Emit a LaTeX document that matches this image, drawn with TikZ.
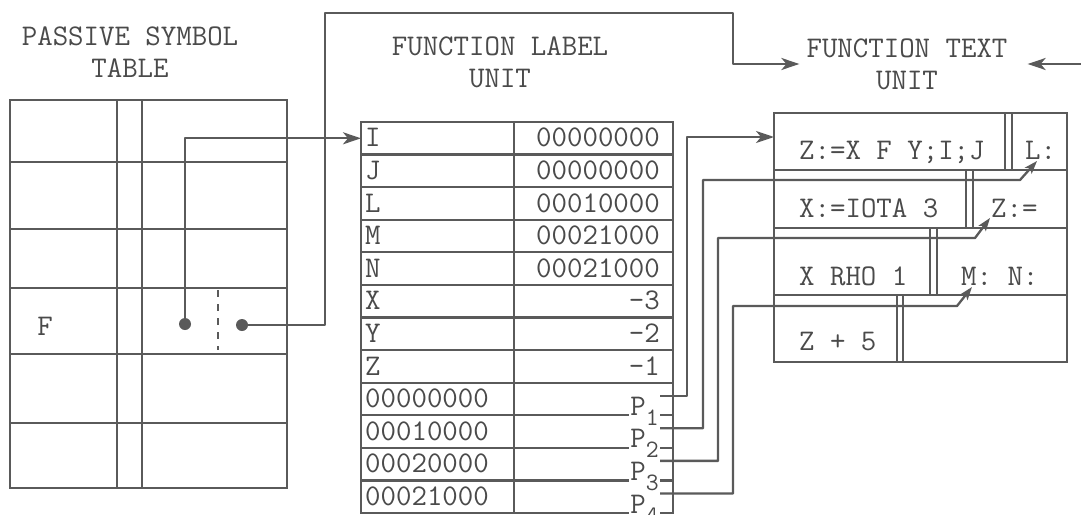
\documentclass[tikz,border=0pt]{standalone}
\usepackage{fontspec}
\usetikzlibrary{arrows.meta,calc}
\definecolor{fuInk}{HTML}{5A5A5A}
\definecolor{fuText}{HTML}{4A4A4A}

\begin{document}
\begin{tikzpicture}[x=1pt,y=-1pt,
  >={Stealth[length=18pt,width=12pt,inset=5pt]},
  rule/.style={draw=fuInk,line width=2.3pt},
  conn/.style={draw=fuInk,line width=2.3pt,line join=round},
  cell/.style={draw=fuInk,line width=2.3pt,inner sep=0pt,outer sep=0pt,minimum height=32.58pt},
  blk/.style={draw=fuInk,line width=2.3pt,inner sep=0pt,outer sep=0pt,minimum width=293pt},
  mono/.style={font=\ttfamily\fontsize{30}{32}\selectfont,text=fuText,inner sep=0pt},
  head/.style={mono,align=center},
  dot/.style={circle,fill=fuInk,inner sep=0pt,minimum size=12pt},
  small/.style={-{Stealth[length=13pt,width=9pt,inset=3pt]}},
]
\useasboundingbox[fill=white] (0,0) rectangle (1081,514);

% titles
\node[head] (psTitle) at (130,52) {PASSIVE SYMBOL\\TABLE};
\node[head] (flTitle) at (500,62) {FUNCTION LABEL\\UNIT};
\node[head] (ftu)     at (907,64) {FUNCTION TEXT\\UNIT};

% passive symbol table
\draw[rule] (10,100) rectangle (287,488);
\foreach \y in {162,229,288,354,423} \draw[rule] (10,\y) -- (287,\y);
\foreach \x in {117,142} \draw[rule] (\x,100) -- (\x,488);
\node[mono] (fsym) at (45,326) {F};
\draw[rule,dash pattern=on 7pt off 7pt] (218,290) -- (218,350);
\node[dot] (dA) at (185,324) {};
\node[dot] (dB) at (242,325) {};

% function label unit
\foreach \lft/\rgt [count=\i] in {I/00000000,J/00000000,L/00010000,M/00021000,
    N/00021000,X/-3,Y/-2,Z/-1,00000000/,00010000/,00020000/,00021000/}{
  \node[cell,minimum width=153pt] (fl\i) at (437.5,{122+(\i-0.5)*32.583}) {};
  \node[cell,minimum width=159pt] (fr\i) at (593.5,{122+(\i-0.5)*32.583}) {};
  \node[mono,anchor=base west] (nm\i) at ([xshift=4pt,yshift=-8.7pt]fl\i.west) {\lft};
  \node[mono,anchor=base east] (val\i) at ([xshift=-13pt,yshift=-8.7pt]fr\i.east) {\rgt};
}
\foreach \k in {1,...,4}{
  \pgfmathtruncatemacro\r{\k+8}
  \node[mono,fill=white,inner sep=1pt,anchor=base east] (P\k) at ([xshift=-13pt]fr\r.south east)
    {P\raisebox{-10pt}{\fontsize{25}{25}\selectfont\k}};
}

% function text unit
\node[blk,minimum height=57pt] (tb1) at (920.5,141.5) {};
\node[blk,minimum height=58pt] (tb2) at (920.5,199) {};
\node[blk,minimum height=67pt] (tb3) at (920.5,261.5) {};
\node[blk,minimum height=67pt] (tb4) at (920.5,328.5) {};
\foreach \b/\xa/\xb in {tb1/1005/1012,tb2/966/973,tb3/930/937,tb4/897/903}
  \foreach \x in {\xa,\xb} \draw[rule] (\x,0 |- \b.north) -- (\x,0 |- \b.south);
\node[mono,anchor=base west] (code1) at (799,159) {Z:=X F Y;I;J};
\node[mono,anchor=base west] (lab1)  at (1025,159) {L:};
\node[mono,anchor=base west] (code2) at (799,217) {X:=IOTA 3};
\node[mono,anchor=base west] (lab2)  at (991,217) {Z:=};
\node[mono,anchor=base west] (code3) at (799,285) {X RHO 1};
\node[mono,anchor=base west] (lab3)  at (961,285) {M: N:};
\node[mono,anchor=base west] (code4) at (799,350) {Z + 5};
\coordinate (tL) at ([xshift=12pt,yshift=-2pt]lab1.base west);
\coordinate (tZ) at ([xshift=-1pt,yshift=-1pt]lab2.base west);
\coordinate (tM) at ([xshift=11pt,yshift=-2pt]lab3.base west);
\coordinate (edgeR) at (1081,64);

% symbol table -> label unit / text unit
\draw[conn,->] (dA) |- (fl1.west);
\draw[conn,->] (dB) -- ++(83,0) |- ++(408,-312) |- ([xshift=-7pt]ftu.west);
\draw[conn,->] (edgeR) -- ([xshift=20pt]ftu.east);
% label pointers -> text unit
\draw[conn,->] (P1.north east) -- ++(27,0) |- ([yshift=4.5pt]tb1.west);
\draw[conn,small] (P2.north east) -- ++(43,0) |- ($(tL)+(-17,19)$) -- (tL);
\draw[conn,small] (P3.north east) -- ++(58,0) |- ($(tZ)+(-15,20)$) -- (tZ);
\draw[conn,small] (P4.north east) -- ++(73,0) |- ($(tM)+(-15,19)$) -- (tM);
\end{tikzpicture}
\end{document}
